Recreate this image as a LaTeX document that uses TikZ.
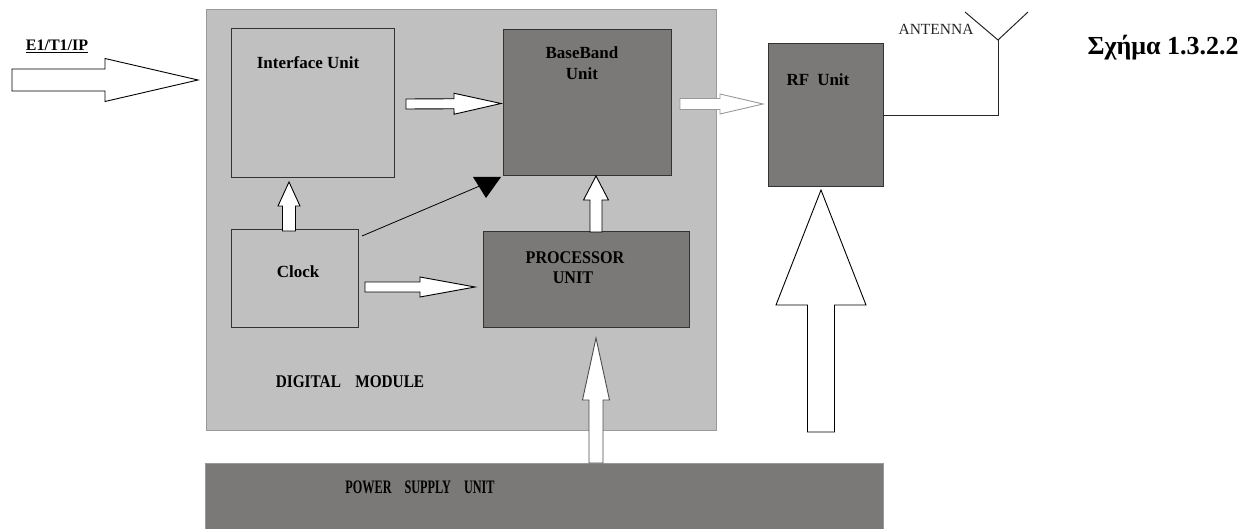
\documentclass[tikz,border=0pt]{standalone}
\usepackage{fontspec}
\usepackage{graphicx}
\setmainfont{Liberation Serif}
\usetikzlibrary{calc}
\definecolor{modgray}{HTML}{C0C0C0}
\definecolor{unitgray}{HTML}{7A7978}
\definecolor{edgegray}{HTML}{999999}
\definecolor{boxedge}{HTML}{333333}
\newcommand{\fatarrow}[6][]{%
  \coordinate (fa-h) at ($(#3)!#6!(#2)$);
  \draw[fat,#1] ($(#2)!#4!90:(#3)$) -- ($(fa-h)!#4!-90:(#2)$) -- ($(fa-h)!#5!-90:(#2)$) -- (#3) -- ($(fa-h)!#5!90:(#2)$) -- ($(fa-h)!#4!90:(#2)$) -- ($(#2)!#4!-90:(#3)$) -- cycle;
}
\begin{document}
\begin{tikzpicture}[x=1pt,y=-1pt,
  blk/.style={anchor=north west, inner sep=0pt, outer sep=0pt, line width=1pt, draw=boxedge},
  lightblk/.style={blk, fill=modgray},
  darkblk/.style={blk, fill=unitgray},
  lbl/.style={font=\bfseries\fontsize{17}{19}\selectfont, inner sep=0pt, text=black},
  fat/.style={draw=black, fill=white, line width=0.9pt, line join=miter}
]
\useasboundingbox (0,0) rectangle (1250,529);

% digital module
\node[lightblk, draw=edgegray, minimum width=510pt, minimum height=420pt] (module) at (206,10) {};
\node[lightblk, minimum width=163pt, minimum height=149pt] (iface) at (231,29) {};
\node[darkblk, minimum width=168pt, minimum height=146pt] (bb) at (503,30) {};
\node[lightblk, minimum width=127pt, minimum height=97pt] (clock) at (231,230) {};
\node[darkblk, minimum width=206pt, minimum height=95pt] (proc) at (483,232) {};
\node[darkblk, minimum width=115pt, minimum height=143pt] (rf) at (768,44) {};
\node[darkblk, draw=edgegray, line width=0.6pt, minimum width=678pt, minimum height=68pt] (psu) at (205,463) {};

% labels
\node[lbl] (tif) at (308,63) {Interface Unit};
\node[lbl] (tbb1) at (582,53) {BaseBand};
\node[lbl] (tbb2) at (582,74) {Unit};
\node[lbl] (tpr1) at (575,258) {\scalebox{0.95}[1.05]{PROCESSOR}};
\node[lbl] (tpr2) at (573,278) {\scalebox{0.95}[1.05]{UNIT}};
\node[lbl] (tclk) at (298,272) {Clock};
\node[lbl] (tdm) at (350,382) {\scalebox{0.9}[1.05]{DIGITAL\hspace{16pt}MODULE}};
\node[lbl] (trf) at (818,80) {RF\hspace{8pt}Unit};
\node[lbl] (tpsu) at (420,487) {\scalebox{0.72}[1.12]{POWER\hspace{18pt}SUPPLY\hspace{18pt}UNIT}};
\node[lbl, font=\bfseries\fontsize{16}{18}\selectfont] (te1) at (57,46) {\underline{E1/T1/IP}};
\node[inner sep=0pt, font=\fontsize{15.5}{17}\selectfont, text=black!85] (tant) at (936,29) {ANTENNA};
\node[inner sep=0pt, font=\bfseries\fontsize{26}{30}\selectfont] (tfig) at (1163,48) {Σχήμα 1.3.2.2};

% antenna
\coordinate (antc) at (998,115.5);
\coordinate (antb) at (998,40);
\coordinate (antl) at (965,12);
\coordinate (antr) at (1028,12);
\draw[line width=1pt, draw=black!85] (rf.east) -- (antc) -- (antb);
\draw[line width=1pt, draw=black!85] (antl) -- (antb) -- (antr);

% fat arrows
\coordinate (e1s) at (12,80);   \coordinate (e1t) at (198,80);
\coordinate (ibs) at (406,104); \coordinate (ibt) at (501,103.5);
\coordinate (brs) at (680,104); \coordinate (brt) at (763,104);
\coordinate (cis) at (289,231); \coordinate (cit) at (289,182);
\coordinate (pbs) at (596,232); \coordinate (pbt) at (596,176);
\coordinate (cps) at (365,287); \coordinate (cpt) at (475,287);
\coordinate (pps) at (596,463); \coordinate (ppt) at (596,338);
\coordinate (rfs) at (821,432); \coordinate (rft) at (821,190);

\fatarrow{e1s}{e1t}{11pt}{21.5pt}{93pt}
\fatarrow{ibs}{ibt}{5pt}{10.5pt}{47pt}
\fatarrow[draw=edgegray]{brs}{brt}{5.5pt}{10pt}{43pt}
\fatarrow{cis}{cit}{6.5pt}{11pt}{24pt}
\fatarrow{pbs}{pbt}{6pt}{12.5pt}{24pt}
\fatarrow{cps}{cpt}{5pt}{10pt}{55pt}
\fatarrow[draw=black!70]{pps}{ppt}{7pt}{13.5pt}{62pt}
\fatarrow{rfs}{rft}{13.5pt}{45pt}{115pt}

% clock to baseband line with filled triangle
\coordinate (clkline) at (362,236);
\coordinate (tria) at (473,177);
\coordinate (trib) at (501,177);
\coordinate (tric) at (486,198);
\coordinate (trim) at (482,185);
\draw[line width=0.8pt] (clkline) -- (trim);
\fill[black] (tria) -- (trib) -- (tric) -- cycle;
\end{tikzpicture}
\end{document}
